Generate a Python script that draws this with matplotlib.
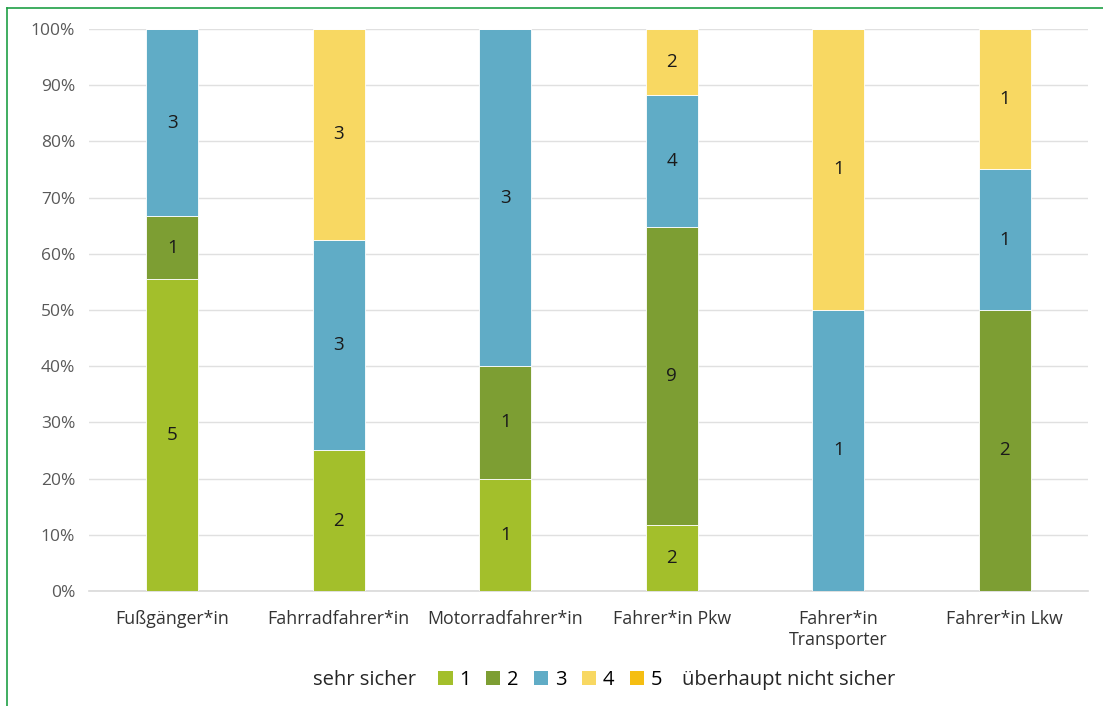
import numpy as np
import matplotlib.pyplot as plt
from matplotlib.patches import Patch

plt.rcParams['font.family'] = ['Open Sans', 'DejaVu Sans']

categories = ["Fußgänger*in", "Fahrradfahrer*in", "Motorradfahrer*in",
              "Fahrer*in Pkw", "Fahrer*in\nTransporter", "Fahrer*in Lkw"]
levels = ["1", "2", "3", "4", "5"]

# counts per rating level (1 = sehr sicher ... 5 = überhaupt nicht sicher)
counts_1 = [5, 2, 1, 2, 0, 0]
counts_2 = [1, 0, 1, 9, 0, 2]
counts_3 = [3, 3, 3, 4, 1, 1]
counts_4 = [0, 3, 0, 2, 1, 1]
counts_5 = [0, 0, 0, 0, 0, 0]

colors = ["#A3BF2B", "#7D9E33", "#60ACC6", "#F8D862", "#F5BE12"]

counts = np.array([counts_1, counts_2, counts_3, counts_4, counts_5], dtype=float)
totals = counts.sum(axis=0)
shares = counts / totals

fig = plt.figure(figsize=(11.03, 7.06), dpi=100)
ax = fig.add_axes([0.0807, 0.1629, 0.9057, 0.7961])

x = np.arange(len(categories))
bottom = np.zeros(len(categories))
for i in range(len(levels)):
    bars = ax.bar(x, shares[i], 0.31, bottom=bottom, color=colors[i],
                  edgecolor="white", linewidth=0.6, zorder=3)
    for j, b in enumerate(bars):
        if counts[i, j] > 0:
            ax.text(b.get_x() + b.get_width() / 2, bottom[j] + shares[i, j] / 2,
                    str(int(counts[i, j])), ha="center", va="center",
                    fontsize=13.5, color="#1a1a1a", zorder=4)
    bottom += shares[i]

ax.set_xlim(-0.5, len(categories) - 0.5)
ax.set_ylim(0, 1)
ax.set_yticks(np.arange(0, 1.01, 0.1))
ax.set_yticklabels([f"{int(round(v * 100))}%" for v in np.arange(0, 1.01, 0.1)])
ax.set_xticks(x)
ax.set_xticklabels(categories)
ax.tick_params(axis="x", length=0, labelsize=12.8, colors="#333333", pad=14)
ax.tick_params(axis="y", length=0, labelsize=12.5, colors="#595959", pad=10)
ax.grid(axis="y", color="#E0E0E0", linewidth=1, zorder=0)
for s in ["top", "right", "left"]:
    ax.spines[s].set_visible(False)
ax.spines["bottom"].set_color("#D9D9D9")
ax.spines["bottom"].set_linewidth(1.2)

handles = [Patch(facecolor=c) for c in colors]
fig.legend(handles, levels, loc="center", bbox_to_anchor=(0.499, 0.037),
           ncol=5, frameon=False, fontsize=14.5, handlelength=0.7,
           handleheight=0.7, handletextpad=0.35, columnspacing=0.75)
fig.text(0.284, 0.037, "sehr sicher", ha="left", va="center", fontsize=14.5, color="#262626")
fig.text(0.618, 0.037, "überhaupt nicht sicher", ha="left", va="center", fontsize=14.5, color="#262626")

# green frame on top and left
fig.add_artist(plt.Line2D([0.0063, 1], [0.9887, 0.9887], color="#1FA045", linewidth=1.2))
fig.add_artist(plt.Line2D([0.0063, 0.0063], [0, 0.9887], color="#1FA045", linewidth=1.2))

fig.savefig("out.png", dpi=100)
